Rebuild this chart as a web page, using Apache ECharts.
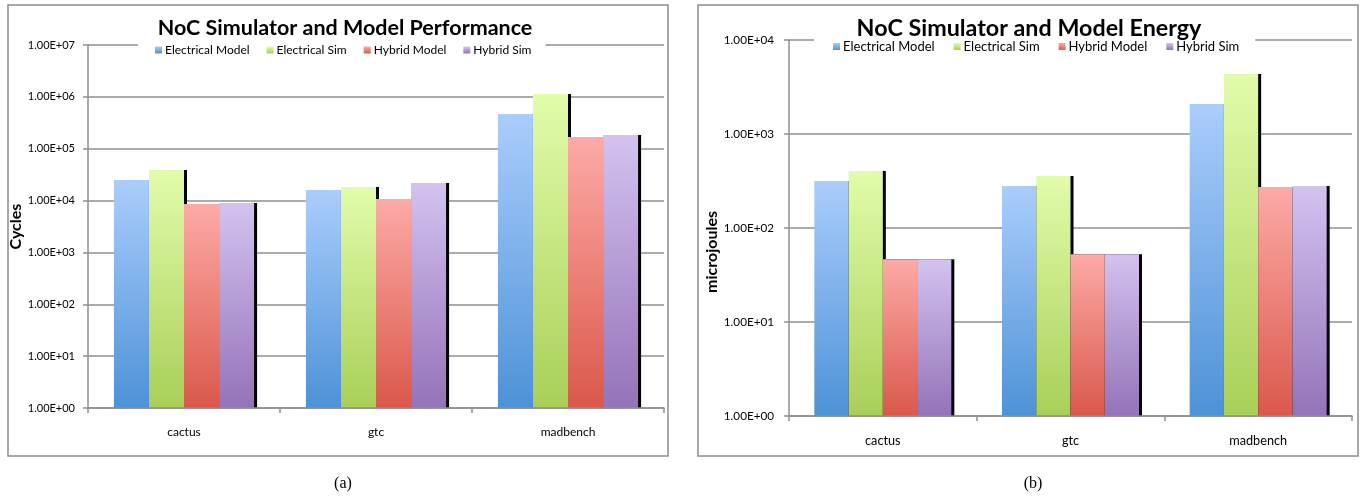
<!DOCTYPE html>
<html>
<head>
<meta charset="utf-8">
<script src="https://cdn.jsdelivr.net/npm/echarts@6/dist/echarts.min.js"></script>
<style>
  html, body { margin: 0; padding: 0; background: #fff; }
  #chart { width: 1364px; height: 496px; }
</style>
</head>
<body>
<div id="chart"></div>
<script>
// Benchmarks and series
const categories = ['cactus', 'gtc', 'madbench'];
const seriesNames = ['Electrical Model', 'Electrical Sim', 'Hybrid Model', 'Hybrid Sim'];

// (a) performance, cycles
const cyclesElectricalModel = [25000, 16000, 467000];
const cyclesElectricalSim = [39000, 18300, 1130000];
const cyclesHybridModel = [8600, 10700, 168000];
const cyclesHybridSim = [9000, 21800, 184000];

// (b) energy, microjoules
const energyElectricalModel = [316, 280, 2085];
const energyElectricalSim = [404, 357, 4350];
const energyHybridModel = [46.5, 52.5, 273];
const energyHybridSim = [46.5, 52.5, 280];

const titles = ['NoC Simulator and Model Performance', 'NoC Simulator and Model Energy'];
const axisNames = ['Cycles', 'microjoules'];
const captions = ['(a)', '(b)'];

// Excel-style vertical gradients, light at the top, saturated at the base
const palette = [
  ['#aacdfc', '#4d92d7'],
  ['#e2fcaa', '#a9cf58'],
  ['#fdaaa6', '#da584b'],
  ['#d3c2ef', '#9473b8']
];

function grad(pair) {
  return new echarts.graphic.LinearGradient(0, 0, 0, 1, [
    { offset: 0, color: pair[0] },
    { offset: 1, color: pair[1] }
  ]);
}

function sci(v) {
  if (v <= 0) return '';
  const e = Math.round(Math.log10(v));
  const m = v / Math.pow(10, e);
  return m.toFixed(2) + 'E' + (e < 0 ? '-' : '+') + String(Math.abs(e)).padStart(2, '0');
}

const FONT = 'Lato, "Open Sans", sans-serif';
const gridLine = '#8f8f8f';

const panels = [
  { grid: { left: 88, top: 45, width: 576, height: 363 }, max: 1e7, split: 7,
    data: [cyclesElectricalModel, cyclesElectricalSim, cyclesHybridModel, cyclesHybridSim],
    titleX: 340, titleSize: 21.5, legendX: 138, legendTop: 38, legendPad: [6, 14, 5, 17],
    legendSize: 12, legendGap: 17, tickSize: 11, catSize: 12,
    labelMargin: 13, nameGap: 61, namePad: [0, 0, 0, 0],
    frame: [8, 5, 660, 451], captionX: 338 },
  { grid: { left: 789, top: 40, width: 563, height: 376 }, max: 1e4, split: 4,
    data: [energyElectricalModel, energyElectricalSim, energyHybridModel, energyHybridSim],
    titleX: 1024, titleSize: 23.3, legendX: 814, legendTop: 34, legendPad: [6, 16, 5, 19],
    legendSize: 13, legendGap: 19, tickSize: 11.7, catSize: 12.7,
    labelMargin: 15, nameGap: 66, namePad: [0, 48, 0, 0],
    frame: [698, 5, 660, 451], captionX: 1028 }
];

const option = {
  backgroundColor: '#fff',
  animation: false,
  title: [],
  legend: [],
  grid: [],
  xAxis: [],
  yAxis: [],
  series: [],
  graphic: []
};

panels.forEach((p, i) => {
  option.graphic.push({
    type: 'rect', z: -1, silent: true,
    shape: { x: p.frame[0], y: p.frame[1], width: p.frame[2], height: p.frame[3] },
    style: { fill: 'none', stroke: '#8c8c8c', lineWidth: 1.5 }
  });
  option.title.push({
    text: titles[i], left: p.titleX, top: 12, textAlign: 'center',
    textStyle: { fontFamily: FONT, fontWeight: 'bold', fontSize: p.titleSize, color: '#000' }
  });
  option.title.push({
    text: captions[i], left: p.captionX, top: 471, textAlign: 'center',
    textStyle: { fontFamily: '"Liberation Serif", "Times New Roman", serif', fontWeight: 'normal', fontSize: 16, color: '#000' }
  });
  option.legend.push({
    data: seriesNames.map(n => n + '\u200b'.repeat(i)),
    left: p.legendX, top: p.legendTop, width: 520, orient: 'horizontal',
    backgroundColor: '#fff', padding: p.legendPad, itemGap: p.legendGap,
    itemWidth: 7, itemHeight: 7, icon: 'rect',
    textStyle: { fontFamily: FONT, fontSize: p.legendSize, color: '#000', padding: [0, 0, 0, -2] },
    selectedMode: false
  });
  option.grid.push(p.grid);
  option.xAxis.push({
    type: 'category', gridIndex: i, data: categories, z: 10,
    axisLine: { lineStyle: { color: gridLine, width: 1.5 } },
    axisTick: { show: true, length: 5, lineStyle: { color: gridLine, width: 1.5 } },
    axisLabel: { fontFamily: FONT, fontSize: p.catSize, color: '#000', margin: 18 }
  });
  option.yAxis.push({
    type: 'log', logBase: 10, gridIndex: i, min: 1, max: p.max, splitNumber: p.split,
    name: axisNames[i], nameLocation: 'middle', nameGap: p.nameGap,
    nameTextStyle: { fontFamily: FONT, fontWeight: 'bold', fontSize: 16, color: '#000', padding: p.namePad },
    axisLine: { show: true, lineStyle: { color: gridLine, width: 1.5 } },
    axisTick: { show: true, length: 5, lineStyle: { color: gridLine, width: 1.5 } },
    splitLine: { show: true, lineStyle: { color: gridLine, width: 1.5 } },
    minorTick: { show: false }, minorSplitLine: { show: false },
    axisLabel: { fontFamily: FONT, fontSize: p.tickSize, color: '#000', margin: p.labelMargin, formatter: sci }
  });
  p.data.forEach((vals, s) => {
    option.series.push({
      type: 'bar', name: seriesNames[s] + '\u200b'.repeat(i),
      xAxisIndex: i, yAxisIndex: i, data: vals,
      barGap: '0%', barCategoryGap: '27%',
      itemStyle: {
        color: grad(palette[s]),
        shadowColor: 'rgba(0,0,0,1)', shadowBlur: 0, shadowOffsetX: 3, shadowOffsetY: 0
      },
      emphasis: { disabled: true }
    });
  });
});

const chart = echarts.init(document.getElementById('chart'), null, { renderer: 'canvas' });
chart.setOption(option);
</script>
</body>
</html>
